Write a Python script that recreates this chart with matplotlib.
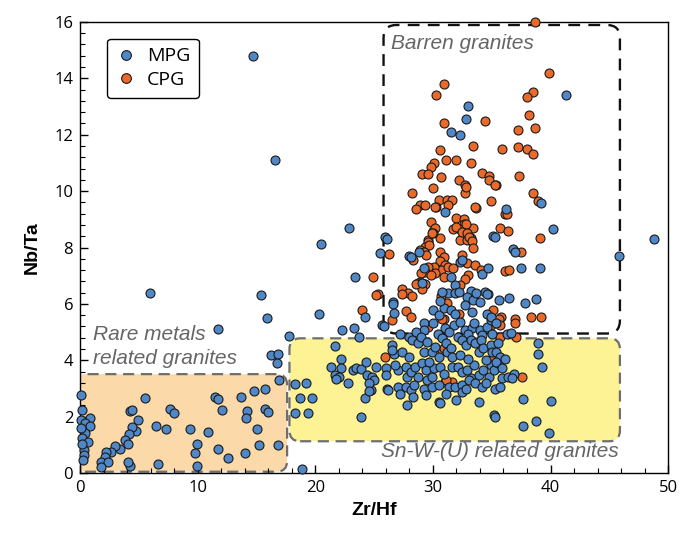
import matplotlib
matplotlib.use("Agg")
import matplotlib.pyplot as plt
from matplotlib.patches import FancyBboxPatch
from matplotlib.ticker import MultipleLocator
from matplotlib.lines import Line2D

# Zr/Hf vs Nb/Ta
mpg_points = [
    # outside the fields
    (14.7, 14.8), (16.6, 11.1), (5.9, 6.4), (15.4, 6.33), (15.9, 5.5), (11.7, 5.12),
    (20.5, 8.13), (22.9, 8.7), (25.9, 8.38), (26.1, 8.3), (48.8, 8.3), (45.8, 7.7),
    (41.3, 13.4), (33.0, 13.0), (32.8, 12.55), (31.5, 12.1), (32.3, 12.0),
    (40.2, 8.66), (39.2, 9.57), (36.2, 9.35), (31.0, 9.25), (35.1, 8.4), (35.3, 8.36),
    (36.8, 7.93), (37.0, 7.83), (37.5, 7.26), (39.1, 7.26), (36.5, 6.2), (38.8, 6.16),
    (25.5, 7.79), (28.0, 7.7), (28.8, 7.85), (28.1, 7.67), (29.2, 7.28), (29.1, 6.73),
    (31.5, 6.96), (31.9, 6.67), (31.3, 6.37), (31.9, 6.37), (33.2, 6.45), (34.4, 6.43),
    (34.7, 6.34), (32.3, 7.49), (32.5, 7.55), (34.2, 7.05), (34.7, 7.26),
    (23.4, 6.94), (24.2, 5.54), (20.3, 5.64), (22.3, 5.07), (23.3, 5.16), (23.7, 4.81),
    (17.8, 4.85), (16.2, 4.18), (16.8, 4.24), (16.7, 3.89), (16.9, 3.3), (25.7, 5.25),
    (21.7, 4.52),
    # band between the fields
    (26.6, 6.07), (30.0, 5.78), (30.5, 5.6), (30.9, 5.84), (31.5, 5.78), (31.9, 5.66),
    (30.6, 6.11), (29.2, 5.34), (30.0, 5.31), (31.0, 5.13), (31.8, 5.25), (32.3, 5.37),
    (32.7, 5.07), (33.3, 5.13), (33.5, 5.31), (34.0, 5.07), (34.6, 5.17), (34.9, 5.43),
    (30.8, 6.43), (32.2, 6.43), (32.9, 6.25), (33.4, 6.13), (34.0, 6.07), (34.6, 6.35),
    (33.7, 6.39), (32.7, 5.96), (33.3, 5.72), (34.6, 5.66), (34.9, 5.54), (35.4, 5.31),
    (35.6, 6.13), (37.8, 6.05), (36.3, 4.94), (36.6, 4.97), (26.6, 6.0), (26.7, 5.67),
    (25.8, 5.23), (27.2, 4.93), (28.0, 4.83), (29.2, 5.07), (28.6, 5.0), (30.4, 4.95),
    (31.4, 5.0), (33.0, 4.95), (34.2, 4.9), (35.0, 4.92),
    # Sn-W-(U) field
    (26.5, 4.54), (26.7, 4.24), (27.4, 4.3), (27.0, 3.65), (27.7, 3.77), (28.2, 4.72),
    (28.7, 4.6), (29.0, 4.84), (29.5, 4.66), (29.2, 4.3), (29.9, 4.3), (30.2, 4.48),
    (30.8, 4.78), (31.1, 4.6), (31.2, 4.3), (31.5, 4.42), (31.6, 4.13), (32.1, 4.84),
    (32.5, 4.72), (32.8, 4.54), (33.2, 4.72), (33.6, 4.6), (33.9, 4.3), (34.1, 4.72),
    (34.3, 4.42), (34.9, 4.54), (35.0, 4.3), (35.5, 4.6), (35.6, 4.13), (26.8, 3.83),
    (27.8, 3.42), (28.1, 3.59), (28.5, 3.77), (28.7, 3.42), (29.1, 3.89), (29.4, 3.65),
    (29.5, 3.3), (29.9, 3.42), (30.1, 3.71), (30.6, 3.77), (30.9, 3.53), (31.6, 3.77),
    (32.1, 3.77), (32.5, 3.59), (32.9, 3.65), (33.2, 3.36), (33.5, 3.83), (33.9, 3.48),
    (34.3, 3.65), (34.8, 3.42), (34.9, 3.83), (35.2, 3.65), (35.5, 3.89), (27.0, 3.06),
    (27.7, 3.06), (28.1, 2.94), (28.4, 3.12), (29.2, 3.0), (29.4, 2.77), (29.9, 3.06),
    (30.5, 3.12), (31.4, 3.06), (31.9, 3.06), (32.5, 3.12), (33.1, 3.3), (33.6, 3.18),
    (34.2, 3.06), (34.5, 3.18), (35.3, 3.0), (30.5, 2.53), (32.5, 2.88), (33.9, 2.53),
    (35.2, 2.06), (27.8, 2.41), (30.6, 2.5), (26.1, 2.97), (27.2, 2.8),
    (28.0, 4.1), (30.5, 4.1), (32.3, 4.2), (33.0, 4.05), (34.5, 4.0), (28.3, 2.7),
    (31.1, 2.8), (32.0, 2.6), (29.7, 3.95), (32.8, 3.0),
    (22.2, 4.04), (21.3, 3.77), (22.2, 3.71), (21.7, 3.47), (22.0, 3.42), (21.8, 3.32),
    (22.8, 3.18), (23.2, 3.65), (23.5, 3.71), (23.9, 3.68), (24.3, 3.95), (24.4, 3.47),
    (24.8, 3.42), (25.0, 3.3), (24.7, 2.94), (24.2, 2.65), (25.2, 3.77), (26.0, 3.71),
    (26.0, 3.47), (26.2, 2.96), (26.5, 4.37), (18.3, 3.16), (19.2, 3.18), (18.7, 2.65),
    (19.7, 2.65), (18.3, 2.12), (19.4, 2.14), (23.9, 2.0), (18.9, 0.14), (24.6, 3.2),
    (24.6, 2.91), (38.9, 4.6), (38.9, 4.22), (39.3, 3.77), (35.4, 4.3), (35.7, 4.13),
    (36.1, 4.03), (35.4, 3.94), (35.9, 3.71), (35.9, 3.36), (35.7, 3.06), (36.4, 3.42),
    (36.9, 3.53), (36.7, 3.39), (37.7, 2.62), (40.0, 2.56), (35.3, 2.0), (37.7, 1.67),
    (38.8, 1.85), (39.9, 1.43),
    # rare metals field
    (0.06, 2.76), (0.17, 2.23), (0.06, 1.9), (0.82, 1.97), (0.4, 1.76), (0.82, 1.66),
    (0.4, 1.43), (0.17, 1.23), (0.68, 1.11), (0.34, 0.81), (0.34, 0.64), (0.26, 0.46),
    (0.06, 1.6), (0.2, 1.02), (4.28, 2.2), (4.93, 1.88), (4.79, 1.5), (4.37, 1.64),
    (4.14, 1.4), (3.8, 1.17), (4.08, 1.05), (3.37, 0.87), (2.95, 0.96), (2.66, 0.75),
    (2.24, 0.75), (2.1, 0.58), (1.81, 0.4), (2.38, 0.4), (1.76, 0.22), (4.28, 0.25),
    (6.63, 0.32), (5.5, 2.65), (6.43, 1.66), (7.28, 1.58), (7.62, 2.29), (8.0, 2.14),
    (9.33, 1.55), (9.9, 1.05), (9.81, 0.72), (9.95, 0.25), (4.4, 2.25), (4.1, 0.4),
    (11.5, 2.7), (11.7, 2.62), (13.7, 2.7), (14.8, 2.9), (15.7, 2.98), (12.05, 2.23),
    (14.2, 2.2), (14.1, 1.97), (15.7, 2.29), (16.0, 2.15), (10.9, 1.46), (15.0, 1.56),
    (11.7, 0.84), (12.6, 0.52), (14.0, 0.72), (15.2, 0.99), (16.8, 0.99),
]

cpg_points = [
    (38.7, 16.0), (39.9, 14.2), (30.9, 13.8), (30.3, 13.4), (38.5, 13.5), (38.0, 13.35),
    (38.2, 12.7), (38.7, 12.25), (34.4, 12.5), (30.9, 12.4), (33.4, 11.6), (37.2, 12.15),
    (37.2, 11.55), (38.0, 11.5), (38.5, 11.3), (35.9, 11.5), (30.6, 11.45), (31.1, 11.1),
    (32.0, 11.1), (33.2, 11.0), (30.1, 11.0), (29.8, 10.85), (29.1, 10.6), (29.6, 10.6),
    (30.7, 10.5), (34.2, 10.65), (34.8, 10.55), (34.8, 10.4), (37.3, 10.55), (32.2, 10.4),
    (32.7, 10.2), (35.4, 10.2), (28.2, 9.95), (30.0, 10.1), (32.7, 9.95), (38.5, 9.95),
    (28.9, 9.5), (28.6, 9.35), (29.3, 9.5), (30.5, 9.7), (31.2, 9.7), (31.6, 9.7),
    (30.3, 9.45), (31.3, 9.5), (33.7, 9.4), (34.9, 9.65), (38.96, 9.65), (36.1, 9.2),
    (36.3, 9.2), (29.8, 8.9), (30.0, 8.6), (30.6, 8.35), (29.6, 8.25), (32.0, 9.05),
    (32.6, 9.0), (32.6, 8.85), (31.7, 8.65), (32.3, 8.65), (33.0, 8.65), (33.4, 8.7),
    (33.2, 8.35), (32.3, 8.25), (32.9, 8.25), (35.7, 8.7), (36.4, 8.6), (39.1, 8.35),
    (32.8, 10.15), (35.3, 10.2), (30.2, 9.44), (33.6, 9.42), (32.0, 8.74), (32.8, 8.82),
    (32.5, 8.56), (32.9, 8.53), (33.1, 8.38), (33.3, 8.23), (33.4, 7.99), (30.2, 8.7),
    (30.0, 8.52), (29.9, 8.5), (37.5, 7.85), (36.1, 7.16), (36.5, 7.22), (26.3, 7.76),
    (29.6, 8.2), (29.3, 8.03), (29.7, 8.09), (28.9, 7.9), (29.2, 7.85), (29.4, 7.73),
    (28.3, 7.55), (30.6, 7.85), (30.9, 7.67), (30.6, 7.52), (31.0, 7.38), (30.7, 7.2),
    (31.3, 7.32), (31.7, 7.26), (30.9, 6.96), (30.1, 7.32), (30.2, 7.08), (29.6, 7.32),
    (29.3, 7.12), (29.8, 7.02), (29.0, 7.08), (28.9, 6.78), (28.7, 6.73), (29.3, 6.69),
    (29.1, 6.52), (32.5, 7.73), (32.9, 7.44), (33.6, 7.38), (33.0, 7.02), (32.7, 6.87),
    (32.3, 6.67), (34.1, 7.2), (25.3, 6.34), (27.4, 6.52), (27.9, 6.37), (28.6, 6.69),
    (30.7, 6.27), (27.4, 6.35), (28.2, 6.27), (27.7, 5.76), (28.1, 5.54), (26.5, 5.43),
    (32.2, 5.66), (30.9, 5.45), (29.5, 5.21), (34.9, 5.25), (24.9, 6.94), (25.2, 6.31),
    (24.0, 5.78), (25.9, 4.13), (31.0, 3.24), (31.6, 3.24), (37.6, 3.42), (35.1, 4.07),
    (35.5, 3.79), (31.2, 6.02), (29.6, 5.17), (30.8, 5.48), (35.1, 5.78), (35.5, 5.43),
    (37.0, 5.48), (37.0, 5.31), (37.1, 4.83), (39.2, 5.54), (30.8, 4.36), (35.8, 5.52),
    (38.3, 5.54), (35.6, 5.45), (35.7, 5.27), (35.7, 4.83), (31.1, 3.3), (30.9, 4.42),
]

mpg_x = [p[0] for p in mpg_points]
mpg_y = [p[1] for p in mpg_points]
cpg_x = [p[0] for p in cpg_points]
cpg_y = [p[1] for p in cpg_points]

blue = "#4f87c7"
orange = "#ea6a2a"
label_gray = "#656565"

fig = plt.figure(figsize=(6.79, 5.34), dpi=100)
ax = fig.add_axes([0.118, 0.114, 0.866, 0.845])
ax.set_xlim(0, 50)
ax.set_ylim(0, 16)

# px per unit: x ~11.76, y ~28.2 -> keep corners round on screen
aspect = 11.76 / 28.2

# fields
rare = FancyBboxPatch((-2, 0.05), 19.6, 3.46, boxstyle="round,pad=0,rounding_size=0.9",
                      mutation_aspect=aspect, facecolor="#fbd9a9", edgecolor="#6e6e6e",
                      linestyle=(0, (5, 3)), linewidth=1.6, zorder=1)
snw = FancyBboxPatch((17.8, 1.13), 28.1, 3.65, boxstyle="round,pad=0,rounding_size=0.9",
                     mutation_aspect=aspect, facecolor="#fdf294", edgecolor="#6e6e6e",
                     linestyle=(0, (5, 3)), linewidth=1.6, zorder=1)
barren = FancyBboxPatch((25.8, 4.95), 20.1, 10.94, boxstyle="round,pad=0,rounding_size=1.1",
                        mutation_aspect=aspect, facecolor="none", edgecolor="#111111",
                        linestyle=(0, (5, 3.5)), linewidth=1.7, zorder=2)
for patch in (rare, snw, barren):
    ax.add_patch(patch)

txt = dict(fontsize=15, style="italic", color=label_gray, family="Liberation Sans",
           va="center", zorder=3)
ax.text(26.4, 15.25, "Barren granites", **txt)
ax.text(1.1, 4.9, "Rare metals", **txt)
ax.text(1.1, 4.08, "related granites", **txt)
ax.text(25.6, 0.75, "Sn-W-(U) related granites", **txt)

ax.scatter(cpg_x, cpg_y, s=42, c=orange, edgecolors="#1a1a1a", linewidths=0.8, zorder=4,
           clip_on=False)
ax.scatter(mpg_x, mpg_y, s=42, c=blue, edgecolors="#1a1a1a", linewidths=0.8, zorder=5,
           clip_on=False)

handles = [
    Line2D([], [], marker="o", linestyle="none", markersize=7, markerfacecolor=blue,
           markeredgecolor="#1a1a1a", markeredgewidth=0.8, label="MPG"),
    Line2D([], [], marker="o", linestyle="none", markersize=7, markerfacecolor=orange,
           markeredgecolor="#1a1a1a", markeredgewidth=0.8, label="CPG"),
]
leg = ax.legend(handles=handles, loc="upper left", bbox_to_anchor=(0.046, 0.963),
                prop={"family": "Open Sans", "size": 14}, frameon=True, fancybox=True,
                edgecolor="black", framealpha=1, handletextpad=0.6, borderpad=0.45,
                handlelength=1.0, labelspacing=0.3, borderaxespad=0)
leg.get_frame().set_linewidth(1.0)
leg._legend_box.align = "left"
leg.set_zorder(6)

ax.xaxis.set_major_locator(MultipleLocator(10))
ax.xaxis.set_minor_locator(MultipleLocator(2))
ax.yaxis.set_major_locator(MultipleLocator(2))
ax.yaxis.set_minor_locator(MultipleLocator(0.4))
ax.tick_params(which="both", direction="in", top=False, right=False)
ax.tick_params(which="major", length=6, width=1, labelsize=12, pad=5)
ax.tick_params(which="minor", length=3.5, width=0.8)
for lab in ax.get_xticklabels() + ax.get_yticklabels():
    lab.set_family("Open Sans")
for sp in ax.spines.values():
    sp.set_linewidth(1.0)

ax.set_xlabel("Zr/Hf", fontsize=14, fontweight="bold", family="Liberation Sans", labelpad=4)
ax.set_ylabel("Nb/Ta", fontsize=14, fontweight="bold", family="Liberation Sans", labelpad=10)

fig.savefig("out.png", dpi=100)
